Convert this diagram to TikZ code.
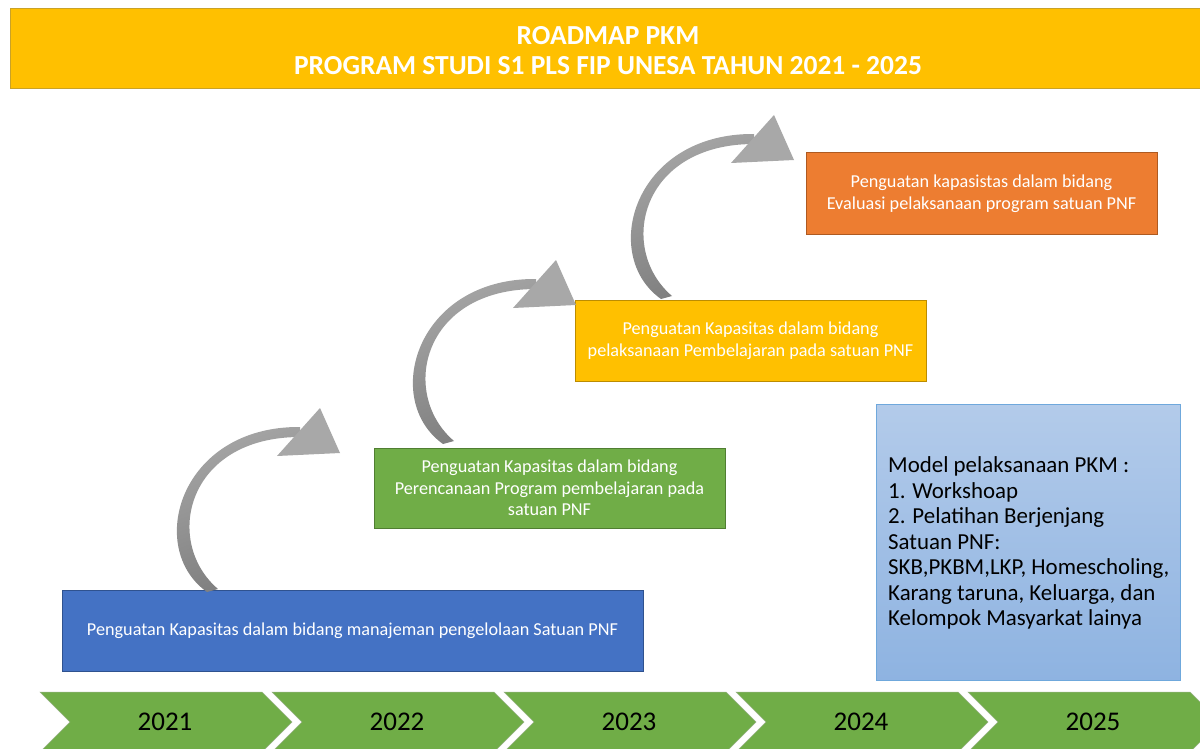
\documentclass[tikz,border=0pt]{standalone}
\usepackage{fontspec}
\setmainfont{Carlito}
\usetikzlibrary{shadings}
\definecolor{cTitle}{HTML}{FFC000}
\definecolor{cTitleB}{HTML}{C9A227}
\definecolor{cBlue}{HTML}{4472C4}
\definecolor{cBlueB}{HTML}{2F528F}
\definecolor{cGreen}{HTML}{70AD47}
\definecolor{cGreenB}{HTML}{507E32}
\definecolor{cYel}{HTML}{FFC000}
\definecolor{cYelB}{HTML}{BC8C00}
\definecolor{cOra}{HTML}{ED7D31}
\definecolor{cOraB}{HTML}{AE5A21}
\definecolor{cLbTop}{HTML}{B3CBEA}
\definecolor{cLbBot}{HTML}{8EB3E1}
\definecolor{cLbB}{HTML}{6FA8DC}
\definecolor{cArrL}{HTML}{A8A8A8}
\definecolor{cArrD}{HTML}{7E7E7E}
\tikzset{
  stagebox/.style={draw, line width=1pt, text=white, align=center, inner sep=0pt,
    font=\fontsize{18.2}{21.5}\selectfont},
  yearlbl/.style={text=black, font=\fontsize{27}{30}\selectfont},
  chev/.style={fill=cGreen, draw=cGreenB!60, line width=0.5pt},
}
\newcommand{\curvarrow}[2]{%
  \begin{scope}[shift={(#1,#2)}]
    \shade[top color=cArrL, bottom color=cArrD, shading angle=20]
      (207,592) .. controls (145,548) and (180,426) .. (300,427)
      -- (300,437) .. controls (186,437) and (163,542) .. (218,589) -- cycle;
    \fill[cArrL] (277,456) -- (320,408) -- (340,453) -- cycle;
  \end{scope}}
\begin{document}
\begin{tikzpicture}[x=1pt,y=-1pt]
\useasboundingbox (0,0) rectangle (1200,749);
\fill[white] (0,0) rectangle (1200,749);
% title
\node[draw=cTitleB, fill=cTitle, line width=1pt, minimum width=1196pt, minimum height=80pt,
  anchor=north west, inner sep=0pt, text=white, align=center,
  font=\bfseries\fontsize{27.5}{30}\selectfont] (title) at (10,8) {};
\node[text=white, align=center, inner sep=0pt,
  font=\bfseries\fontsize{27.5}{30}\selectfont] (ttext) at (608,51)
  {ROADMAP PKM\\PROGRAM STUDI S1 PLS FIP UNESA TAHUN 2021 - 2025};
% stage boxes
\node[stagebox, fill=cBlue, draw=cBlueB, minimum width=581pt, minimum height=81pt] (s1) at (352.5,630.5)
  {Penguatan Kapasitas dalam bidang manajeman pengelolaan Satuan PNF};
\node[stagebox, fill=cGreen, draw=cGreenB, minimum width=351pt, minimum height=80pt] (s2) at (549.5,488)
  {Penguatan Kapasitas dalam bidang\\Perencanaan Program pembelajaran pada\\satuan PNF};
\node[stagebox, fill=cYel, draw=cYelB, minimum width=351pt, minimum height=81pt] (s3) at (750.5,340.5)
  {Penguatan Kapasitas dalam bidang\\pelaksanaan Pembelajaran pada satuan PNF};
\node[stagebox, fill=cOra, draw=cOraB, minimum width=351pt, minimum height=81pt] (s4) at (981.5,193.5)
  {Penguatan kapasistas dalam bidang\\Evaluasi pelaksanaan program satuan PNF};
% arrows
\curvarrow{0}{0}
\curvarrow{236}{-148}
\curvarrow{454}{-293}
% model box
\shade[top color=cLbTop, bottom color=cLbBot, draw=cLbB, line width=1pt] (876,404) rectangle (1180,680);
\node[anchor=west, align=left, inner sep=0pt, text=black,
  font=\fontsize{22.9}{25.5}\selectfont] (model) at (888,543)
  {Model pelaksanaan PKM :\\1. Workshoap\\2. Pelatihan Berjenjang\\Satuan PNF:\\SKB,PKBM,LKP, Homescholing,\\Karang taruna, Keluarga, dan\\Kelompok Masyarkat lainya};
% timeline chevrons
\foreach \i/\yr in {0/2021,1/2022,2/2023,3/2024,4/2025}{
  \pgfmathsetmacro{\xx}{40+232*\i}
  \draw[chev] (\xx,692) -- ++(222,0) -- ++(30,30) -- ++(-30,30) -- ++(-222,0) -- ++(30,-30) -- cycle;
  \node[yearlbl] (y\yr) at (\xx+125,722) {\yr};
}
\end{tikzpicture}
\end{document}
